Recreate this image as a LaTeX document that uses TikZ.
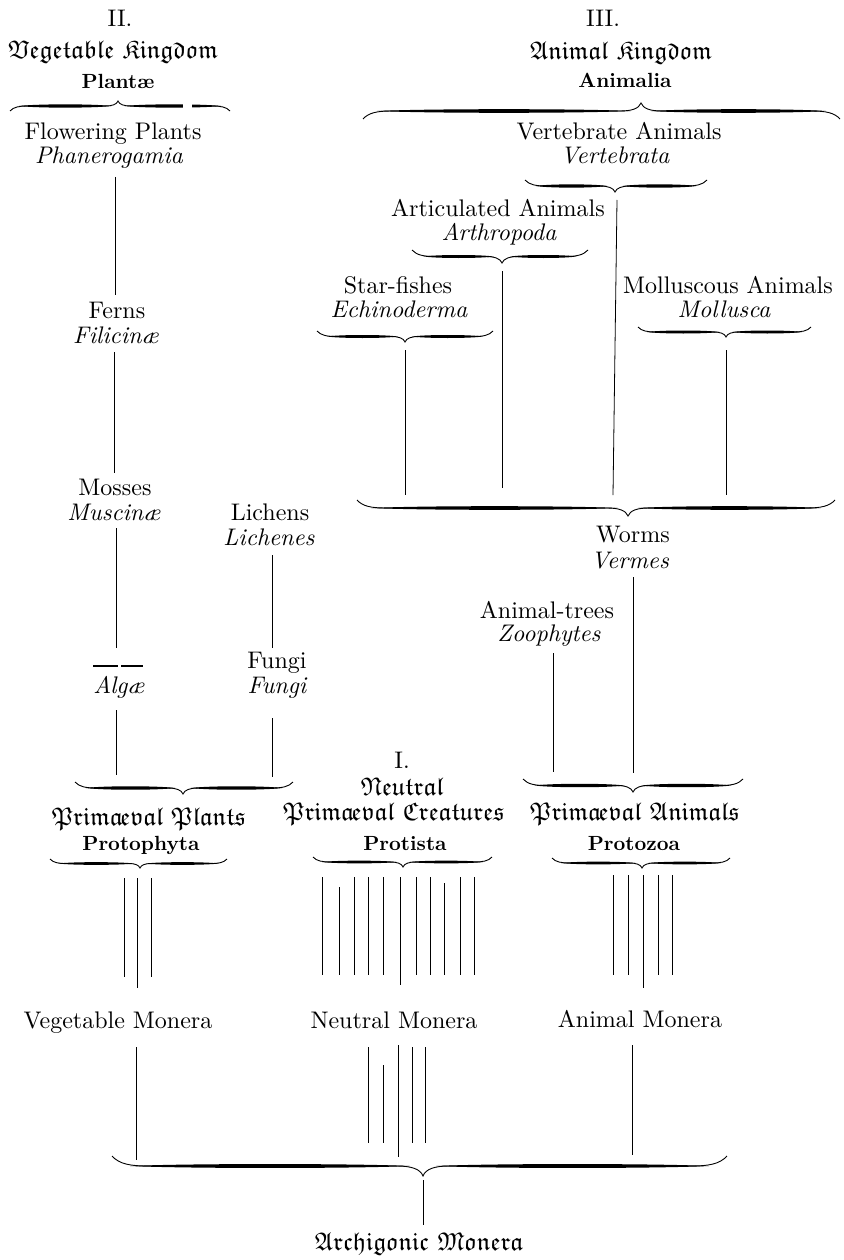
\documentclass[tikz,border=0pt]{standalone}
\usepackage{fontspec}
\setmainfont{lmroman10-regular}[Extension=.otf, BoldFont=lmroman10-bold, ItalicFont=lmroman10-italic, BoldItalicFont=lmroman10-bolditalic]
\usepackage{amsfonts}
\usetikzlibrary{calc}
\newcommand\frk[1]{\ensuremath{\mathfrak{#1}}}
\newcommand\fae{\frk{a}\kern-0.1em\frk{e}}
\newcommand\swell[4]{%
  \pgfmathsetmacro\sA{#1}\pgfmathsetmacro\sB{#2}\pgfmathsetmacro\sL{\sB-\sA}%
  \fill (\sA,#3) .. controls ({\sA+0.2*\sL},{#3-#4}) and ({\sB-0.2*\sL},{#3-#4}) .. (\sB,#3)
     .. controls ({\sB-0.2*\sL},{#3+#4}) and ({\sA+0.2*\sL},{#3+#4}) .. cycle;
}
\newcommand\calbrace[7]{%
  \pgfmathsetmacro\bY{#5}%
  \pgfmathsetmacro\bM{#5+0.5*(#6)}%
  \pgfmathsetmacro\bT{#5+(#6)}%
  \pgfmathsetmacro\bE{1.8*abs(#6)}%
  \pgfmathsetmacro\bK{1.3*abs(#6)}%
  \coordinate (#1) at (#4,\bT);
  \draw[bracepen] (#2,\bY) .. controls ({#2+0.2*\bE},{#5+0.4*(#6)}) and ({#2+0.5*\bE},\bM) .. ({#2+\bE},\bM)
     -- ({#4-\bK},\bM) .. controls ({#4-0.45*\bK},\bM) and ({#4-0.1*\bK},{#5+0.65*(#6)}) .. (#4,\bT)
     .. controls ({#4+0.1*\bK},{#5+0.65*(#6)}) and ({#4+0.45*\bK},\bM) .. ({#4+\bK},\bM)
     -- ({#3-\bE},\bM) .. controls ({#3-0.5*\bE},\bM) and ({#3-0.2*\bE},{#5+0.4*(#6)}) .. (#3,\bY);
  \swell{#2+0.5*\bE}{#4-0.5*\bK}{\bM}{#7}%
  \swell{#4+0.5*\bK}{#3-0.5*\bE}{\bM}{#7}%
}
\tikzset{
  lbl/.style={inner sep=0pt, outer sep=0pt, anchor=base},
  lrm/.style={lbl, font=\fontsize{24}{26}\selectfont},
  lit/.style={lbl, font=\fontsize{24}{26}\selectfont\itshape},
  lbf/.style={lbl, font=\fontsize{20.5}{22}\selectfont\bfseries},
  lfk/.style={lbl, font=\fontsize{25.5}{27}\selectfont},
  stem/.style={line width=0.8pt, line cap=butt},
  bracepen/.style={line width=0.9pt},
  algrule/.style={line width=1.4pt},
}
\begin{document}
\begin{tikzpicture}[x=1pt,y=-1pt]
\useasboundingbox (0,0) rectangle (843,1260);
\fill[white] (0,0) rectangle (843,1260);
% left column
\node[lrm] (numII) at (120,27) {II.};
\node[lfk] (vegk) at (113,59) {\frk{Vegetable} \frk{Kingdom}};
\node[lbf] (plantae) at (118,89) {Plantæ};
\node[lrm] (flow) at (113,140) {Flowering Plants};
\node[lit] (phan) at (109,164) {Phanerogamia};
\node[lrm] (ferns) at (117,318) {Ferns};
\node[lit] (filic) at (116,343) {Filicinæ};
\node[lrm] (mosses) at (115,495) {Mosses};
\node[lit] (musc) at (114,520) {Muscinæ};
\node[lrm] (lichens) at (270,520) {Lichens};
\node[lit] (lichenes) at (269,545) {Lichenes};
\node[lit] (algae) at (119,693) {Algæ};
\node[lrm] (fungi) at (277,668) {Fungi};
\node[lit] (fungiit) at (277,693) {Fungi};
\node[lfk] (pplants) at (149,825) {\frk{Prim}\fae\frk{val} \frk{Plants}};
\node[lbf] (protophyta) at (141,850) {Protophyta};
% middle
\node[lrm] (numI) at (402,768) {I.};
\node[lfk] (neutral) at (402,795) {\frk{Neutral}};
\node[lfk] (pcreat) at (394,820) {\frk{Prim}\fae\frk{val} \frk{Creatures}};
\node[lbf] (protista) at (405,850) {Protista};
% right
\node[lrm] (numIII) at (603,27) {III.};
\node[lfk] (animk) at (621,60) {\frk{Animal} \frk{Kingdom}};
\node[lbf] (animalia) at (625,88) {Animalia};
\node[lrm] (vert) at (619,140) {Vertebrate Animals};
\node[lit] (vertit) at (615,164) {Vertebrata};
\node[lrm] (artic) at (498,216) {Articulated Animals};
\node[lit] (arthro) at (499,240) {Arthropoda};
\node[lrm] (star) at (398,293) {Star-fishes};
\node[lit] (echino) at (399,317) {Echinoderma};
\node[lrm] (moll) at (728,293) {Molluscous Animals};
\node[lit] (mollit) at (724,317) {Mollusca};
\node[lrm] (worms) at (633,542) {Worms};
\node[lit] (vermes) at (630,568) {Vermes};
\node[lrm] (atrees) at (547,618) {Animal-trees};
\node[lit] (zooph) at (549,641) {Zoophytes};
\node[lfk] (panim) at (635,820) {\frk{Prim}\fae\frk{val} \frk{Animals}};
\node[lbf] (protozoa) at (634,850) {Protozoa};
% bottom
\node[lrm] (vegmon) at (118,1028) {Vegetable Monera};
\node[lrm] (neumon) at (394,1028) {Neutral Monera};
\node[lrm] (animon) at (640,1027) {Animal Monera};
\node[lfk] (archi) at (419,1250) {\frk{Archigonic} \frk{Monera}};
% braces
\calbrace{b1}{10}{230}{118}{111}{-10}{2.2}
\fill[white] (183,94) rectangle (192,118);
\calbrace{b2}{363}{840}{641}{119}{-16}{2.4}
\calbrace{b3}{525}{707}{615}{180}{12}{2.2}
\calbrace{b4}{412}{588}{502}{250}{13}{2}
\calbrace{b5}{317}{493}{405}{331}{11}{2}
\calbrace{b6}{638}{811}{726}{327}{10}{2}
\calbrace{b7}{357}{835}{628}{500}{16}{2.4}
\calbrace{b8}{75}{293}{183}{782}{12}{2.3}
\calbrace{b9}{50}{227}{140}{859}{9}{1.8}
\calbrace{b10}{523}{743}{633}{779}{13}{2.3}
\calbrace{b11}{313}{492}{403}{857}{10}{1.8}
\calbrace{b12}{552}{730}{642}{858}{10}{1.8}
\calbrace{b13}{112}{727}{423}{1156}{20}{2.6}
% connectors, plants
\draw[stem] ($(phan.base)+(6,13)$) -- ($(ferns.base)+(-2,-23)$);
\draw[stem] ($(filic.base)+(-2,9)$) -- ($(mosses.base)+(-1,-22)$);
\draw[stem] ($(musc.base)+(2,8)$) -- ($(algae.base)+(-3,-45)$);
\draw[algrule] ($(algae.base)+(-26,-27)$) -- ($(algae.base)+(-1,-27)$);
\draw[algrule] ($(algae.base)+(2,-27)$) -- ($(algae.base)+(24,-27)$);
\draw[stem] ($(algae.base)+(-3,17)$) -- ($(pplants.base)+(-33,-50)$);
\draw[stem] ($(lichenes.base)+(3,10)$) -- ($(fungi.base)+(-5,-20)$);
\draw[stem] ($(fungiit.base)+(-5,25)$) -- ($(pplants.base)+(123,-48)$);
% connectors, animals
\draw[stem] ($(b3)+(2,8)$) -- ($(worms.base)+(-20,-47)$);
\draw[stem] ($(b4)+(0,8)$) -- ($(worms.base)+(-131,-54)$);
\draw[stem] ($(b5)+(0,8)$) -- ($(worms.base)+(-228,-47)$);
\draw[stem] ($(b6)+(0,13)$) -- ($(worms.base)+(93,-47)$);
\draw[stem] ($(vermes.base)+(3,9)$) -- ($(panim.base)+(-2,-47)$);
\draw[stem] ($(zooph.base)+(4,12)$) -- ($(panim.base)+(-82,-48)$);
% bundles to monera
\foreach \dx/\sy/\ey in {-16/10/-51, -3/10/-40, 11/10/-51}
  \draw[stem] ($(b9)+(\dx,\sy)$) -- ($(vegmon.base)+(\dx+22,\ey)$);
\foreach \dx/\sy/\ey in {-81/10/-53, -64/20/-53, -49/10/-53, -35/10/-53, -20/10/-53, -3/10/-43, 13/10/-53, 27/10/-53, 41/16/-53, 57/10/-53, 71/10/-53}
  \draw[stem] ($(b11)+(\dx,\sy)$) -- ($(neumon.base)+(\dx+9,\ey)$);
\foreach \dx/\ey in {-29/-52, -14/-52, 1/-39, 16/-52, 30/-52}
  \draw[stem] ($(b12)+(\dx,7)$) -- ($(animon.base)+(\dx+2,\ey)$);
% monera to archigonic
\draw[stem] ($(vegmon.base)+(18,19)$) -- ($(archi.base)+(-283,-90)$);
\foreach \dx/\sy/\ey in {-26/19/-107, -11/37/-107, 4/17/-93, 18/19/-107, 31/19/-107}
  \draw[stem] ($(neumon.base)+(\dx,\sy)$) -- ($(archi.base)+(\dx-25,\ey)$);
\draw[stem] ($(animon.base)+(-8,18)$) -- ($(archi.base)+(213,-95)$);
\draw[stem] ($(b13)+(0,4)$) -- ($(archi.base)+(4,-25)$);
\end{tikzpicture}
\end{document}
